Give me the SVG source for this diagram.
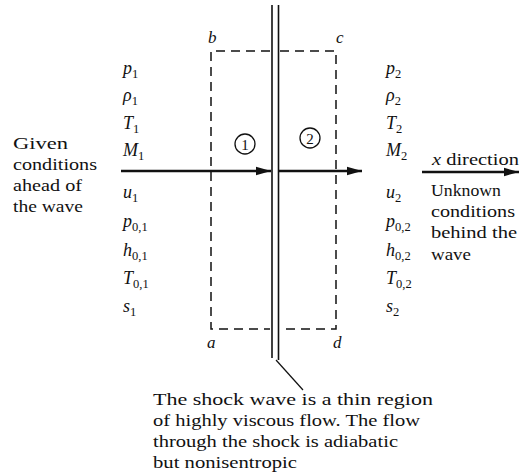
<svg xmlns="http://www.w3.org/2000/svg" width="524" height="474" viewBox="0 0 524 474" font-family="'Liberation Serif', 'Times New Roman', serif">
<style>
text{fill:#111;}
.dash{fill:none;stroke:#111;stroke-width:1.5;stroke-dasharray:9 6;}
.shock{stroke:#111;stroke-width:1.6;fill:none;}
.arr{stroke:#111;stroke-width:2.6;fill:none;}
.circ{fill:none;stroke:#111;stroke-width:1.3;}
</style>
<defs>
<marker id="ah" markerWidth="16" markerHeight="10" refX="15" refY="5" orient="auto" markerUnits="userSpaceOnUse">
<path d="M0,0.8 L15,5 L0,9.2 Z" fill="#111"/>
</marker>
</defs>

<g id="control-volume" font-size="17" font-style="italic">
<path class="dash" d="M270,51 H211 V329 H270"/>
<path class="dash" d="M280,51 H336 V329 H280"/>
<text x="208" y="43">b</text>
<text x="336" y="43">c</text>
<text x="207" y="348">a</text>
<text x="333" y="348">d</text>
</g>

<g id="shock-wave">
<line class="shock" x1="272" y1="5" x2="272" y2="358"/>
<line class="shock" x1="278.5" y1="5" x2="278.5" y2="360"/>
</g>

<g id="region-1" font-size="15">
<circle class="circ" cx="245" cy="144" r="10"/>
<text x="245" y="149.5" text-anchor="middle">1</text>
</g>
<g id="region-2" font-size="15">
<circle class="circ" cx="310" cy="138" r="10"/>
<text x="310" y="143.5" text-anchor="middle">2</text>
</g>

<g id="connectors">
<line class="arr" x1="121" y1="171" x2="271" y2="171" marker-end="url(#ah)"/>
<line class="arr" x1="279" y1="171" x2="362" y2="171" marker-end="url(#ah)"/>
<line class="arr" x1="422" y1="172" x2="519" y2="172" marker-end="url(#ah)"/>
<line stroke="#111" stroke-width="1.2" x1="276" y1="360" x2="303" y2="390"/>
</g>

<g id="upstream-variables" font-size="18" font-style="italic">
<text x="123" y="74">p<tspan font-size="12.5" font-style="normal" dy="4">1</tspan></text>
<text x="123" y="101">ρ<tspan font-size="12.5" font-style="normal" dy="4">1</tspan></text>
<text x="123" y="129">T<tspan font-size="12.5" font-style="normal" dy="4">1</tspan></text>
<text x="123" y="156">M<tspan font-size="12.5" font-style="normal" dy="4">1</tspan></text>
<text x="123" y="198">u<tspan font-size="12.5" font-style="normal" dy="4">1</tspan></text>
<text x="123" y="227">p<tspan font-size="12.5" font-style="normal" dy="4">0,1</tspan></text>
<text x="123" y="256">h<tspan font-size="12.5" font-style="normal" dy="4">0,1</tspan></text>
<text x="123" y="284">T<tspan font-size="12.5" font-style="normal" dy="4">0,1</tspan></text>
<text x="123" y="312">s<tspan font-size="12.5" font-style="normal" dy="4">1</tspan></text>
</g>

<g id="downstream-variables" font-size="18" font-style="italic">
<text x="386" y="74">p<tspan font-size="12.5" font-style="normal" dy="4">2</tspan></text>
<text x="386" y="101">ρ<tspan font-size="12.5" font-style="normal" dy="4">2</tspan></text>
<text x="386" y="129">T<tspan font-size="12.5" font-style="normal" dy="4">2</tspan></text>
<text x="386" y="156">M<tspan font-size="12.5" font-style="normal" dy="4">2</tspan></text>
<text x="386" y="198">u<tspan font-size="12.5" font-style="normal" dy="4">2</tspan></text>
<text x="386" y="227">p<tspan font-size="12.5" font-style="normal" dy="4">0,2</tspan></text>
<text x="386" y="256">h<tspan font-size="12.5" font-style="normal" dy="4">0,2</tspan></text>
<text x="386" y="284">T<tspan font-size="12.5" font-style="normal" dy="4">0,2</tspan></text>
<text x="386" y="312">s<tspan font-size="12.5" font-style="normal" dy="4">2</tspan></text>
</g>

<g id="given-conditions" font-size="17">
<text x="13" y="149" textLength="55" lengthAdjust="spacingAndGlyphs">Given</text>
<text x="13" y="170" textLength="84" lengthAdjust="spacingAndGlyphs">conditions</text>
<text x="13" y="191" textLength="69" lengthAdjust="spacingAndGlyphs">ahead of</text>
<text x="13" y="212" textLength="70" lengthAdjust="spacingAndGlyphs">the wave</text>
</g>

<g id="x-direction" font-size="17">
<text x="432" y="165" textLength="87" lengthAdjust="spacingAndGlyphs"><tspan font-style="italic">x</tspan> direction</text>
</g>

<g id="unknown-conditions" font-size="17">
<text x="431" y="196" textLength="70" lengthAdjust="spacingAndGlyphs">Unknown</text>
<text x="431" y="217" textLength="84" lengthAdjust="spacingAndGlyphs">conditions</text>
<text x="431" y="238" textLength="86" lengthAdjust="spacingAndGlyphs">behind the</text>
<text x="431" y="260" textLength="40" lengthAdjust="spacingAndGlyphs">wave</text>
</g>

<g id="shock-note" font-size="17">
<text x="153" y="405" textLength="280" lengthAdjust="spacingAndGlyphs">The shock wave is a thin region</text>
<text x="153" y="426" textLength="267" lengthAdjust="spacingAndGlyphs">of highly viscous flow.  The flow</text>
<text x="153" y="447" textLength="245" lengthAdjust="spacingAndGlyphs">through the shock is adiabatic</text>
<text x="153" y="468" textLength="144" lengthAdjust="spacingAndGlyphs">but nonisentropic</text>
</g>
</svg>
